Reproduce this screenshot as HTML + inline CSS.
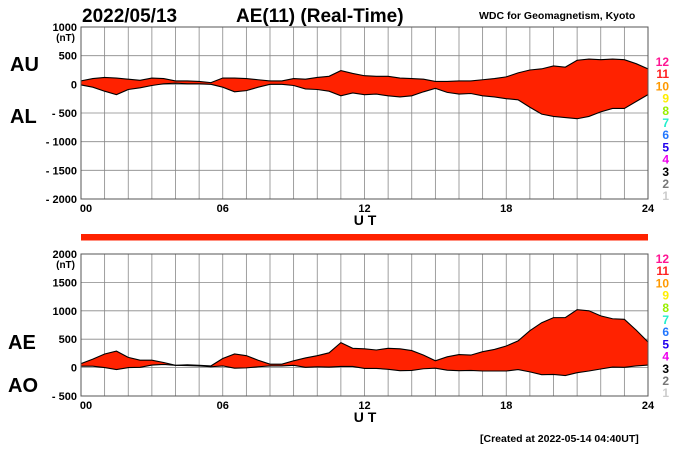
<!DOCTYPE html>
<html><head><meta charset="utf-8">
<style>
body{margin:0;background:#fff;}
svg{display:block;font-family:"Liberation Sans",sans-serif;}
</style></head>
<body>
<svg id="chart" width="700" height="450" viewBox="0 0 700 450">
<text x="82" y="22" font-size="19" font-weight="bold">2022/05/13</text>
<text x="236" y="22" font-size="19" font-weight="bold">AE(11) (Real-Time)</text>
<text x="479" y="19" font-size="10.5" font-weight="bold">WDC for Geomagnetism, Kyoto</text>
<text x="10" y="71" font-size="20" font-weight="bold">AU</text>
<text x="10" y="123" font-size="20" font-weight="bold">AL</text>
<text x="8" y="349" font-size="20" font-weight="bold">AE</text>
<text x="8" y="392" font-size="20" font-weight="bold">AO</text>
<text x="480" y="442" font-size="10.5" font-weight="bold">[Created at 2022-05-14 04:40UT]</text>
<g id="g"></g>
</svg>
<script>
const hours=[0,0.5,1,1.5,2,2.5,3,3.5,4,4.5,5,5.5,6,6.5,7,7.5,8,8.5,9,9.5,10,10.5,11,11.5,12,12.5,13,13.5,14,14.5,15,15.5,16,16.5,17,17.5,18,18.5,19,19.5,20,20.5,21,21.5,22,22.5,23,23.5,24];
const auValues=[60,100,120,110,90,70,110,100,60,60,50,30,110,110,100,80,60,60,100,90,120,140,240,190,150,140,140,110,100,90,50,50,60,60,80,100,130,200,250,270,320,300,420,440,430,440,430,360,270];
const alValues=[-10,-50,-120,-180,-90,-60,-20,10,20,10,10,0,-50,-130,-110,-50,0,0,-20,-80,-90,-120,-200,-150,-180,-170,-200,-220,-200,-130,-70,-140,-170,-160,-200,-220,-250,-270,-400,-520,-560,-580,-600,-560,-480,-420,-420,-300,-180];
const topTicks=[1000,500,0,-500,-1000,-1500,-2000];
const botTicks=[2000,1500,1000,500,0,-500];
const xTicks=["00","06","12","18","24"];
const legendNums=["12","11","10","9","8","7","6","5","4","3","2","1"];
const legendColors=["#ff1493","#ff2020","#ff9900","#ffee00","#99ee00","#22eecc","#2277ff","#2200ee","#ee00ee","#000000","#777777","#cccccc"];
const aeValues=auValues.map((u,i)=>u-alValues[i]);
const aoValues=auValues.map((u,i)=>(u+alValues[i])/2);

const NS="http://www.w3.org/2000/svg";
const g=document.getElementById('g');
function el(t,a){const e=document.createElementNS(NS,t);for(const k in a)e.setAttribute(k,a[k]);g.appendChild(e);return e;}
const X0=81,X1=648;
const xs=h=>X0+(X1-X0)*h/24;
const yTop=v=>27+(1000-v)*172/3000;
const yBot=v=>254+(2000-v)*142/2500;

function panel(y0,y1,ticks,yf,legY,upper,lower,prefix){
  for(let h=0;h<=24;h++){const l=el('line',{x1:xs(h),x2:xs(h),y1:y0,y2:y1,stroke:'#888','stroke-width':0.8});
    }
  ticks.forEach(t=>{const y=yf(t);const l=el('line',{x1:X0,x2:X1,y1:y,y2:y,stroke:'#888','stroke-width':0.8});
    
    const tx=el('text',{x:77,y:y+4,'font-size':11,'font-weight':'bold','text-anchor':'end'});
    tx.textContent=(t<0?'- '+(-t):String(t));
    });
  const nt=el('text',{x:75,y:yf(ticks[0])+14,'font-size':10,'font-weight':'bold','text-anchor':'end'});nt.textContent='(nT)';
  
  let d='M'+hours.map((h,i)=>xs(h)+','+yf(upper[i])).join(' L');
  d+=' L'+hours.map((h,i)=>xs(h)+','+yf(lower[i])).reverse().join(' L')+' Z';
  const p=el('path',{d:d,fill:'#ff2200',stroke:'none'});
  
  [upper,lower].forEach((s,k)=>{const pl=el('polyline',{points:hours.map((h,i)=>xs(h)+','+yf(s[i])).join(' '),fill:'none',stroke:'#000','stroke-width':1.1});
    });
  const r=el('rect',{x:X0,y:y0,width:X1-X0,height:y1-y0,fill:'none',stroke:'#555','stroke-width':1});
  
  xTicks.forEach((t,i)=>{const tx=el('text',{x:xs(i*6)+(i==0?5:0),y:y1+13,'font-size':11,'font-weight':'bold','text-anchor':'middle'});tx.textContent=t;
    });
  const ut=el('text',{x:365,y:y1+26,'font-size':14,'font-weight':'bold','text-anchor':'middle'});ut.textContent='U T';
  
  legendNums.forEach((n,i)=>{const tx=el('text',{x:669,y:legY+i*12.2,'font-size':12,'font-weight':'bold','text-anchor':'end',fill:legendColors[i]});tx.textContent=n;
    });
}
panel(27,199,topTicks,yTop,66,auValues,alValues,'top');
panel(254,396,botTicks,yBot,263,aeValues,aoValues,'bottom');
const bar=el('rect',{x:X0,y:234,width:X1-X0,height:6.5,fill:'#ff2200'});


</script>
</body></html>
